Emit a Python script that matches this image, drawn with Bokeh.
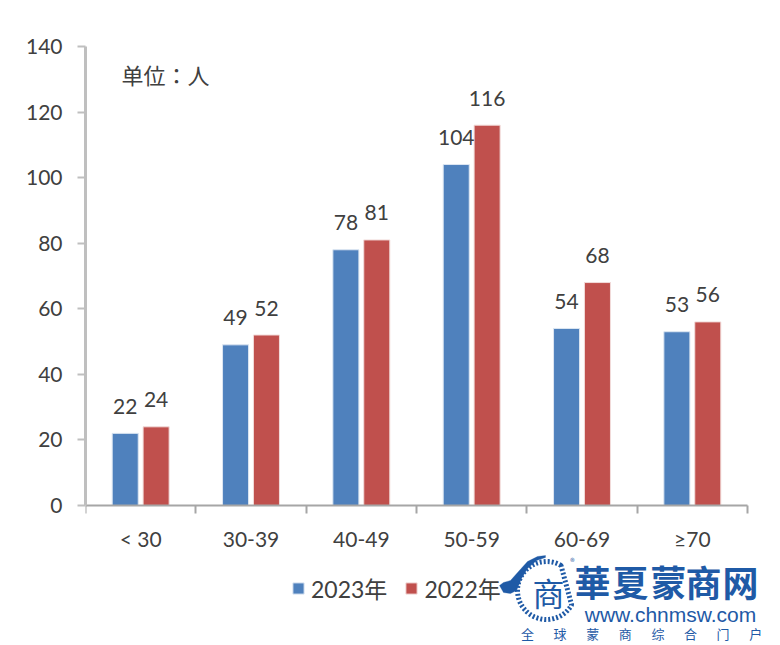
import math
from bokeh.plotting import figure
from bokeh.embed import file_html
from bokeh.resources import INLINE
from bokeh.models import (ColumnDataSource, FixedTicker, Range1d, Label, Legend, LegendItem,
                          PolyAnnotation)
from bokeh.core.properties import value

categories = ["< 30", "30-39", "40-49", "50-59", "60-69", "≥70"]
series_2023 = [22, 49, 78, 104, 54, 53]
series_2022 = [24, 52, 81, 116, 68, 56]
y_ticks = [0, 20, 40, 60, 80, 100, 120, 140]
unit_text = "单位：人"
logo_title = ["華", "夏", "蒙", "商", "网"]
logo_url = "www.chnmsw.com"
logo_sub = ["全", "球", "蒙", "商", "综", "合", "门", "户"]

FONT = "Lato, 'Noto Sans CJK SC', sans-serif"
CJK = "'Noto Sans CJK SC', sans-serif"
TEXT = "#404040"
BLUE = "#4F81BD"
RED = "#C0504D"
LOGO = "#1F5AA6"

# page pixels of the plot area; the frame runs on to the page's bottom so the logo can sit in it
FL, FT, FB, FR, W, H = 85, 46, 505, 747, 780, 645
x_end = 6 * (W - FL) / (FR - FL)
y_start = -140 * (H - FB) / (FB - FT)
p = figure(width=W, height=H, output_backend="svg", toolbar_location=None,
           x_range=Range1d(0, x_end), y_range=Range1d(y_start, 140),
           min_border_left=FL, min_border_top=FT,
           min_border_right=0, min_border_bottom=0)
p.xgrid.visible = False
p.ygrid.visible = False
p.outline_line_color = None

centers = [i + 0.5 for i in range(len(categories))]
src = ColumnDataSource(dict(
    x1=[c - 0.14 for c in centers], x2=[c + 0.14 for c in centers],
    v23=series_2023, v22=series_2022,
    t23=[str(v) for v in series_2023], t22=[str(v) for v in series_2022]))

r1 = p.vbar(x="x1", top="v23", width=0.236, source=src, fill_color=BLUE,
            line_color="#DCE6F2", line_width=1)
r2 = p.vbar(x="x2", top="v22", width=0.236, source=src, fill_color=RED,
            line_color="#F2DCDB", line_width=1)

for x, t in (("x1", "t23"), ("x2", "t22")):
    p.text(x=x, y=t.replace("t", "v"), text=t, source=src, text_align="center",
           text_baseline="middle", y_offset=-27, text_font=value(FONT),
           text_font_size="21px", text_color=TEXT)

ax = p.xaxis[0]
ax.fixed_location = 0
ax.bounds = (0, 6)
ax.ticker = FixedTicker(ticks=centers, minor_ticks=list(range(7)))
ax.major_label_overrides = {c: l for c, l in zip(centers, categories)}
ax.major_tick_line_color = None
ax.major_tick_out = 0
ax.major_tick_in = 0
ax.minor_tick_out = 8
ax.minor_tick_in = 0
ax.minor_tick_line_color = "#A6A6A6"
ax.minor_tick_line_width = 2
ax.axis_line_color = "#A6A6A6"
ax.axis_line_width = 2
ax.major_label_standoff = 12
ax.major_label_text_font = FONT
ax.major_label_text_font_size = "21px"
ax.major_label_text_color = TEXT

ay = p.yaxis[0]
ay.bounds = (0, 140)
ay.ticker = FixedTicker(ticks=y_ticks)
ay.minor_tick_line_color = None
ay.major_tick_out = 8
ay.major_tick_in = 0
ay.major_tick_line_color = "#BFBFBF"
ay.major_tick_line_width = 2
ay.axis_line_color = "#BFBFBF"
ay.axis_line_width = 3
ay.major_label_standoff = 15
ay.major_label_text_font = FONT
ay.major_label_text_font_size = "21px"
ay.major_label_text_color = TEXT

lx = lambda px: px - FL
ly = lambda py: H - py


def label(text, px, py, size, color=TEXT, font=CJK, align="center", style="normal"):
    p.add_layout(Label(x=lx(px), y=ly(py), x_units="screen", y_units="screen", text=text,
                       text_font=font, text_font_size=f"{size}px", text_color=color,
                       text_align=align, text_baseline="middle", text_font_style=style))


label(unit_text, 121, 73, 22, align="left", font="'Noto Sans CJK JP', sans-serif")

legend = Legend(items=[LegendItem(label="2023年", renderers=[r1]),
                       LegendItem(label="2022年", renderers=[r2])],
                orientation="horizontal", location=(lx(291), ly(605)),
                background_fill_alpha=0, border_line_color=None, glyph_width=14, glyph_height=14,
                label_text_font=FONT, label_text_font_size="23px", label_text_color=TEXT,
                label_standoff=6, spacing=17, padding=8, margin=0)
p.add_layout(legend, "center")


# Watermark logo, in page pixels
def poly(pts, **kw):
    p.add_layout(PolyAnnotation(xs=[lx(a) for a, b in pts], ys=[ly(b) for a, b in pts],
                                xs_units="screen", ys_units="screen", **kw))


def ring(cx, cy, r, a0, a1, n=60):
    return [(cx + r * math.cos(math.radians(a0 + (a1 - a0) * i / n)),
             cy - r * math.sin(math.radians(a0 + (a1 - a0) * i / n))) for i in range(n + 1)]


poly(ring(546, 590, 29, 60, 330), fill_alpha=0, line_color=LOGO, line_width=5,
     line_dash="2 2", line_alpha=1)
outer = [(499, 585), (503, 582), (510, 580), (518, 571), (527, 561), (537, 556), (545, 555)]
inner = [(545, 557), (536, 560), (527, 568), (521, 578), (516, 590), (510, 593), (503, 592)]
poly(outer + inner, fill_color=LOGO, fill_alpha=1, line_color=LOGO, line_width=1)

label("商", 548, 591, 32, color=LOGO)
label("®", 572, 561, 9, color=LOGO)
for ch, cx in zip(logo_title, [592, 630, 668, 703, 740]):
    label(ch, cx, 580, 36, color=LOGO, style="bold")
label(logo_url, 670, 614, 21, color=LOGO, font="'Liberation Sans', sans-serif")
for i, ch in enumerate(logo_sub):
    label(ch, 527 + i * 32.6, 633, 13, color=LOGO)

open("out.html", "w").write(file_html(p, INLINE))
